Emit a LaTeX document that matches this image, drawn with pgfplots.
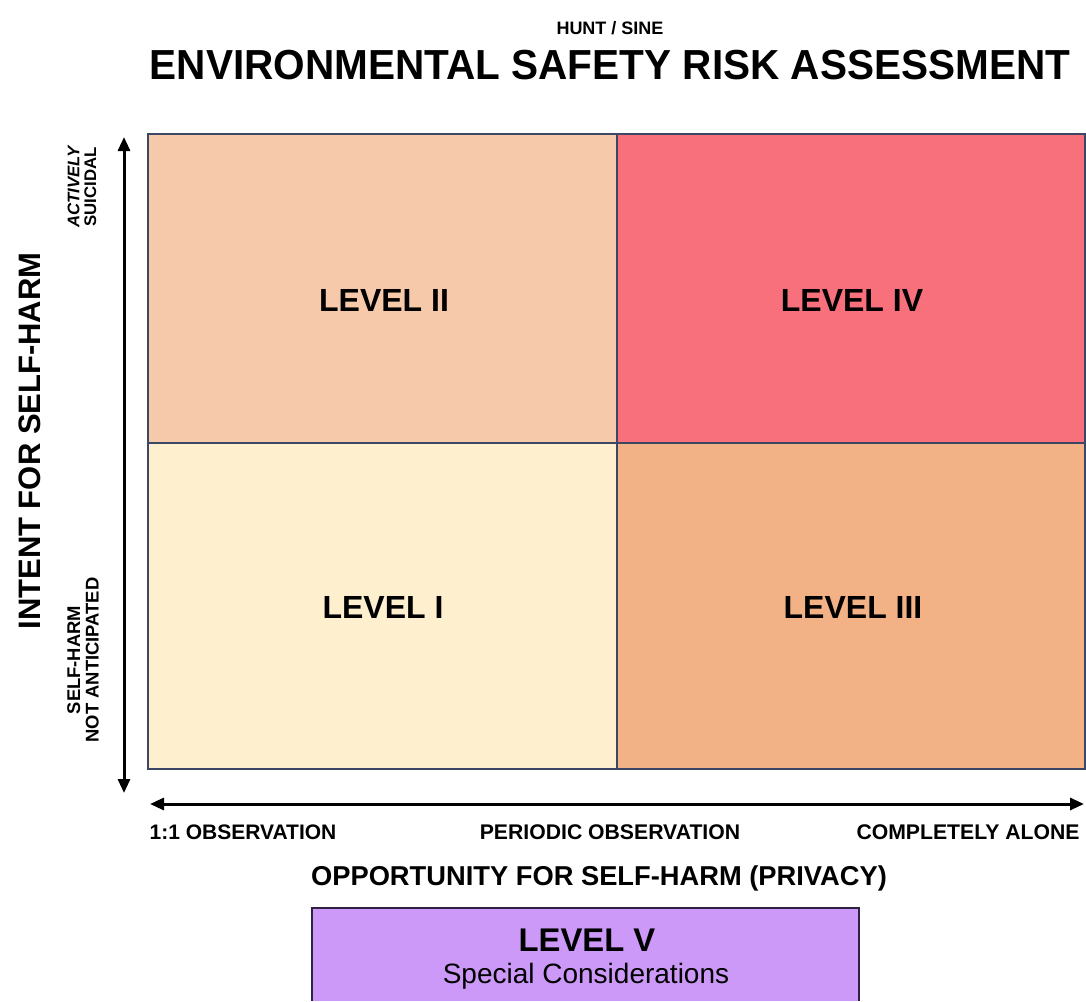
\documentclass[border=0pt]{standalone}
\usepackage{fontspec}
\setmainfont{Liberation Sans}
\usepackage{pgfplots}
\pgfplotsset{compat=1.18}
\usetikzlibrary{arrows.meta}
\definecolor{lvone}{HTML}{FEF0CE}
\definecolor{lvtwo}{HTML}{F6C9AB}
\definecolor{lvthree}{HTML}{F2B285}
\definecolor{lvfour}{HTML}{F7707C}
\definecolor{lvfive}{HTML}{CC99F9}
\definecolor{gridline}{HTML}{3C4766}
\definecolor{boxline}{HTML}{2E2240}
\newcommand{\fs}[1]{\fontsize{#1}{#1}\selectfont}
\begin{document}
\begin{tikzpicture}
\begin{axis}[
  scale only axis, width=543pt, height=500.5pt,
  xmin=0, xmax=1086, ymin=0, ymax=1001, y dir=reverse,
  hide axis, clip=false,
]
% background
\addplot[fill=white, draw=none] coordinates {(0,0) (1086,0) (1086,1001) (0,1001)} --cycle;
% quadrants
\addplot[fill=lvtwo, draw=none] coordinates {(148,134) (617,134) (617,443) (148,443)} --cycle;
\addplot[fill=lvfour, draw=none] coordinates {(617,134) (1085,134) (1085,443) (617,443)} --cycle;
\addplot[fill=lvone, draw=none] coordinates {(148,443) (617,443) (617,769) (148,769)} --cycle;
\addplot[fill=lvthree, draw=none] coordinates {(617,443) (1085,443) (1085,769) (617,769)} --cycle;
\addplot[draw=gridline, line width=1pt] coordinates {(148,134) (1085,134) (1085,769) (148,769)} --cycle;
\addplot[draw=gridline, line width=1pt] coordinates {(617,134) (617,769)};
\addplot[draw=gridline, line width=1pt] coordinates {(148,443) (1085,443)};
% arrows
\addplot[black, line width=1.5pt, {Triangle[length=7pt,width=6pt]}-{Triangle[length=7pt,width=6pt]}] coordinates {(124,137) (124,793)};
\addplot[black, line width=1.5pt, {Triangle[length=7pt,width=6pt]}-{Triangle[length=7pt,width=6pt]}] coordinates {(150,804) (1084,804)};
% level V box
\addplot[fill=lvfive, draw=none] coordinates {(312,908) (859,908) (859,1001) (312,1001)} --cycle;
\addplot[draw=boxline, line width=1.3pt] coordinates {(312,1001) (312,908) (859,908) (859,1001)};
% titles
\node[font=\fs{9}\bfseries] at (axis cs:610,28) {HUNT / SINE};
\node[font=\fs{21}\bfseries, xscale=0.965] at (axis cs:610,65) {ENVIRONMENTAL SAFETY RISK ASSESSMENT};
% level labels
\node[font=\fs{16}\bfseries] at (axis cs:384,300) {LEVEL II};
\node[font=\fs{16}\bfseries] at (axis cs:852,300) {LEVEL IV};
\node[font=\fs{16}\bfseries] at (axis cs:383,607) {LEVEL I};
\node[font=\fs{16}\bfseries] at (axis cs:853,607) {LEVEL III};
% y labels
\node[font=\fs{15.5}\bfseries, rotate=90] at (axis cs:30,441) {INTENT FOR SELF-HARM};
\node[font=\fs{8.4}\bfseries, rotate=90, align=center, inner sep=0pt] at (axis cs:82,187) {\itshape ACTIVELY\\SUICIDAL};
\node[font=\fs{9.2}\bfseries, rotate=90, align=center, inner sep=0pt] at (axis cs:83,660) {SELF-HARM\\NOT ANTICIPATED};
% x labels
\node[font=\fs{10.5}\bfseries] at (axis cs:243,832) {1:1 OBSERVATION};
\node[font=\fs{10.6}\bfseries] at (axis cs:610,832) {PERIODIC OBSERVATION};
\node[font=\fs{10.6}\bfseries] at (axis cs:968,832) {COMPLETELY ALONE};
\node[font=\fs{13.65}\bfseries] at (axis cs:599,878) {OPPORTUNITY FOR SELF-HARM (PRIVACY)};
% level V text
\node[font=\fs{16.4}\bfseries] at (axis cs:587,940) {LEVEL V};
\node[font=\fs{14}] at (axis cs:586,976) {Special Considerations};
\coordinate (bbsw) at (axis cs:0,1001);
\coordinate (bbne) at (axis cs:1086,0);
\end{axis}
\pgfresetboundingbox
\path (bbsw) rectangle (bbne);
\end{tikzpicture}
\end{document}
